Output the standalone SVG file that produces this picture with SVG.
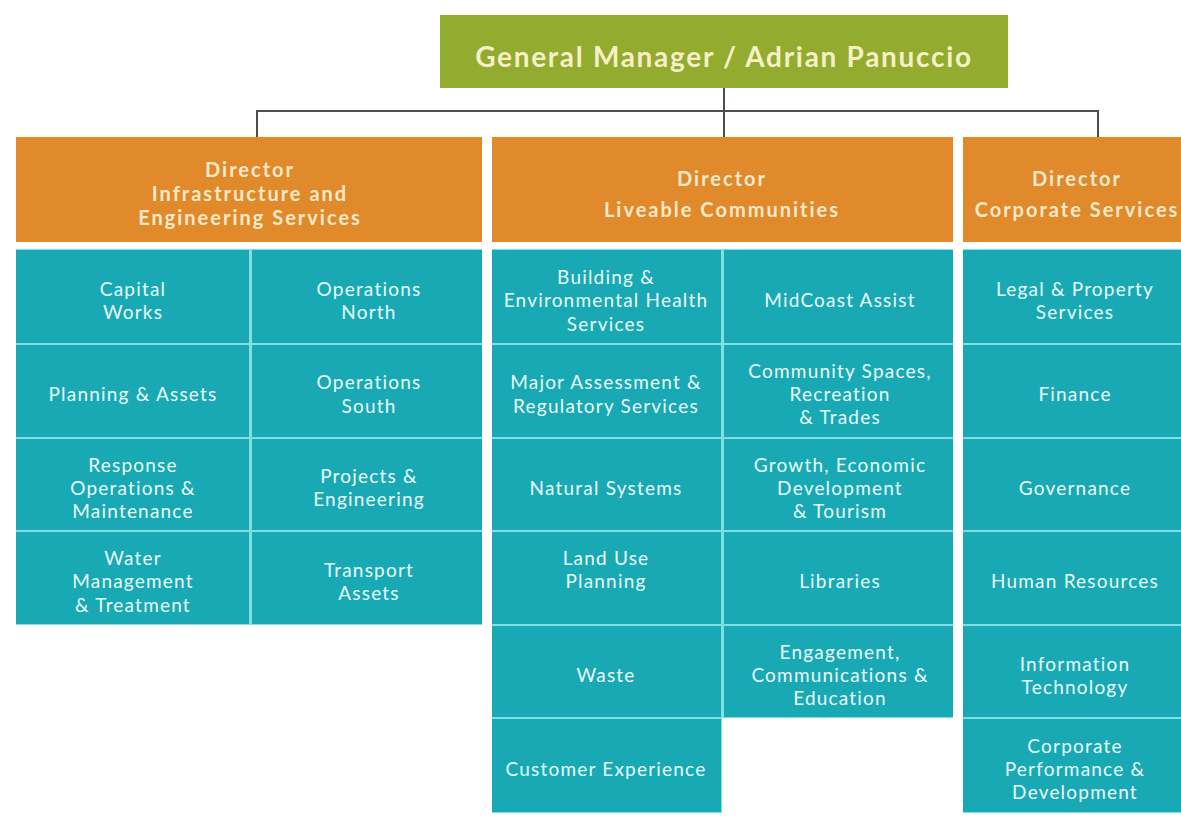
<svg xmlns="http://www.w3.org/2000/svg" width="1181" height="821" viewBox="0 0 1181 821">
<style>
.gm{fill:#93ab2f}
.dir{fill:#e08a2b}
.cell{fill:#18a9b4}
.sep{fill:#7fdfe3}
.conn{stroke:#4a4f55;stroke-width:2;fill:none}
.tg{font-family:Lato,"Noto Sans",sans-serif;font-weight:bold;font-size:28px;fill:#f6f0c6;text-anchor:middle;letter-spacing:1.7px}
.td{font-family:Lato,"Noto Sans",sans-serif;font-weight:bold;font-size:20px;fill:#f7e9c9;text-anchor:middle;letter-spacing:2px}
.tc{font-family:Lato,"Noto Sans",sans-serif;font-size:19px;fill:#e8fbfb;text-anchor:middle;letter-spacing:1.2px}
</style>
<rect width="1181" height="821" fill="#ffffff"/>
<g id="connectors">
<path class="conn" d="M724 88 V111 M257 137 V111 H1098 V137 M724 111 V137"/>
</g>
<g id="gm"><rect class="gm" x="440" y="15" width="568" height="73"/><text class="tg" x="724" y="67">General Manager / Adrian Panuccio</text></g>
<g id="dir-infra"><rect class="dir" x="16" y="137" width="466" height="105"/>
<text class="td" x="250" y="177">Director</text><text class="td" x="250" y="201">Infrastructure and</text><text class="td" x="250" y="225">Engineering Services</text></g>
<g id="dir-live"><rect class="dir" x="492" y="137" width="461" height="105"/>
<text class="td" x="722" y="186">Director</text><text class="td" x="722" y="217">Liveable Communities</text></g>
<g id="dir-corp"><rect class="dir" x="963" y="137" width="218" height="105"/>
<text class="td" x="1077" y="186">Director</text><text class="td" x="1077" y="217">Corporate Services</text></g>

<rect class="sep" x="16" y="249" width="466" height="376"/>
<rect class="sep" x="492" y="249" width="461" height="469"/>
<rect class="sep" x="492" y="718" width="230" height="95"/>
<rect class="sep" x="963" y="249" width="218" height="564"/>

<g id="capital-works"><rect class="cell" x="16" y="250" width="233" height="93"/><text class="tc" x="133" y="296">Capital</text><text class="tc" x="133" y="319">Works</text></g>
<g id="operations-north"><rect class="cell" x="252" y="250" width="230" height="93"/><text class="tc" x="369" y="296">Operations</text><text class="tc" x="369" y="319">North</text></g>
<g id="planning-assets"><rect class="cell" x="16" y="345" width="233" height="92"/><text class="tc" x="133" y="401">Planning &amp; Assets</text></g>
<g id="operations-south"><rect class="cell" x="252" y="345" width="230" height="92"/><text class="tc" x="369" y="389">Operations</text><text class="tc" x="369" y="413">South</text></g>
<g id="response-ops"><rect class="cell" x="16" y="439" width="233" height="91"/><text class="tc" x="133" y="472">Response</text><text class="tc" x="133" y="495">Operations &amp;</text><text class="tc" x="133" y="518">Maintenance</text></g>
<g id="projects-eng"><rect class="cell" x="252" y="439" width="230" height="91"/><text class="tc" x="369" y="483">Projects &amp;</text><text class="tc" x="369" y="506">Engineering</text></g>
<g id="water-mgmt"><rect class="cell" x="16" y="532" width="233" height="92"/><text class="tc" x="133" y="565">Water</text><text class="tc" x="133" y="588">Management</text><text class="tc" x="133" y="612">&amp; Treatment</text></g>
<g id="transport-assets"><rect class="cell" x="252" y="532" width="230" height="92"/><text class="tc" x="369" y="577">Transport</text><text class="tc" x="369" y="600">Assets</text></g>

<g id="building-env"><rect class="cell" x="492" y="250" width="229" height="93"/><text class="tc" x="606" y="284">Building &amp;</text><text class="tc" x="606" y="307">Environmental Health</text><text class="tc" x="606" y="331">Services</text></g>
<g id="midcoast-assist"><rect class="cell" x="724" y="250" width="229" height="93"/><text class="tc" x="840" y="307">MidCoast Assist</text></g>
<g id="major-assessment"><rect class="cell" x="492" y="345" width="229" height="92"/><text class="tc" x="606" y="389">Major Assessment &amp;</text><text class="tc" x="606" y="413">Regulatory Services</text></g>
<g id="community-spaces"><rect class="cell" x="724" y="345" width="229" height="92"/><text class="tc" x="840" y="378">Community Spaces,</text><text class="tc" x="840" y="401">Recreation</text><text class="tc" x="840" y="424">&amp; Trades</text></g>
<g id="natural-systems"><rect class="cell" x="492" y="439" width="229" height="91"/><text class="tc" x="606" y="495">Natural Systems</text></g>
<g id="growth"><rect class="cell" x="724" y="439" width="229" height="91"/><text class="tc" x="840" y="472">Growth, Economic</text><text class="tc" x="840" y="495">Development</text><text class="tc" x="840" y="518">&amp; Tourism</text></g>
<g id="land-use"><rect class="cell" x="492" y="532" width="229" height="92"/><text class="tc" x="606" y="565">Land Use</text><text class="tc" x="606" y="588">Planning</text></g>
<g id="libraries"><rect class="cell" x="724" y="532" width="229" height="92"/><text class="tc" x="840" y="588">Libraries</text></g>
<g id="waste"><rect class="cell" x="492" y="626" width="229" height="91"/><text class="tc" x="606" y="682">Waste</text></g>
<g id="engagement"><rect class="cell" x="724" y="626" width="229" height="91"/><text class="tc" x="840" y="659">Engagement,</text><text class="tc" x="840" y="682">Communications &amp;</text><text class="tc" x="840" y="705">Education</text></g>
<g id="customer-exp"><rect class="cell" x="492" y="719" width="229" height="93"/><text class="tc" x="606" y="776">Customer Experience</text></g>

<g id="legal"><rect class="cell" x="963" y="250" width="218" height="93"/><text class="tc" x="1075" y="296">Legal &amp; Property</text><text class="tc" x="1075" y="319">Services</text></g>
<g id="finance"><rect class="cell" x="963" y="345" width="218" height="92"/><text class="tc" x="1075" y="401">Finance</text></g>
<g id="governance"><rect class="cell" x="963" y="439" width="218" height="91"/><text class="tc" x="1075" y="495">Governance</text></g>
<g id="hr"><rect class="cell" x="963" y="532" width="218" height="92"/><text class="tc" x="1075" y="588">Human Resources</text></g>
<g id="it"><rect class="cell" x="963" y="626" width="218" height="91"/><text class="tc" x="1075" y="671">Information</text><text class="tc" x="1075" y="694">Technology</text></g>
<g id="corp-perf"><rect class="cell" x="963" y="719" width="218" height="93"/><text class="tc" x="1075" y="753">Corporate</text><text class="tc" x="1075" y="776">Performance &amp;</text><text class="tc" x="1075" y="799">Development</text></g>
</svg>
